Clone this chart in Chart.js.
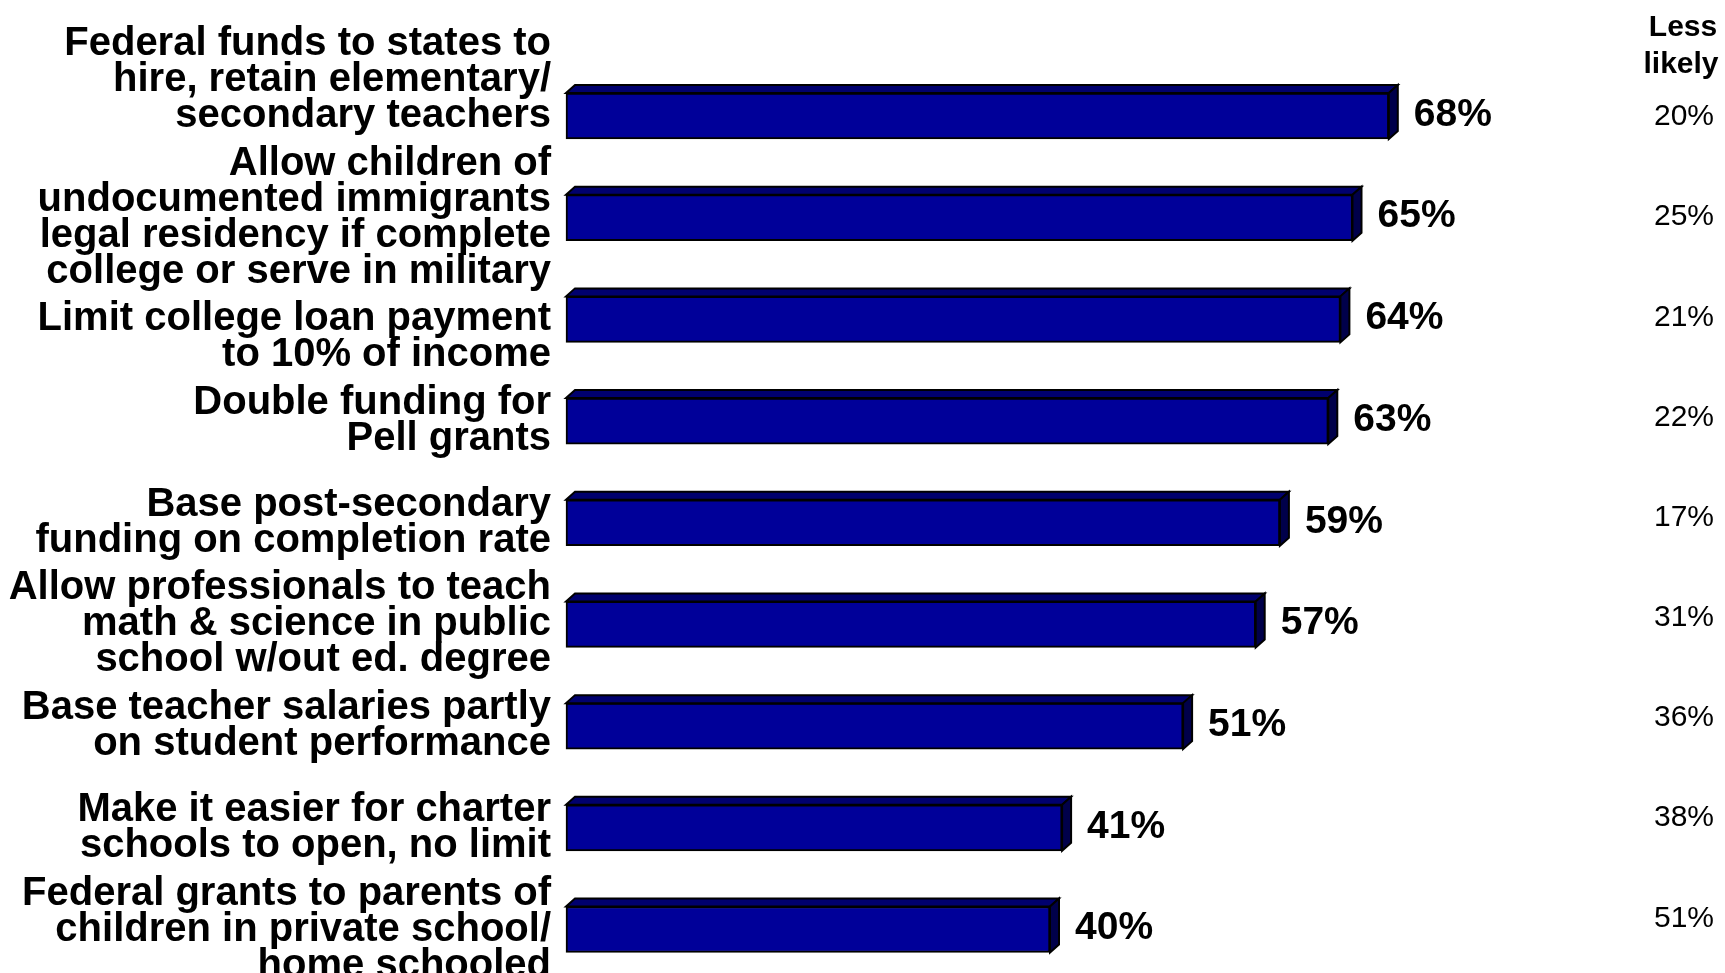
<!DOCTYPE html>
<html>
<head>
<meta charset="utf-8">
<script src="https://cdn.jsdelivr.net/npm/chart.js@4/dist/chart.umd.min.js"></script>
<style>
  html, body { margin: 0; padding: 0; background: #ffffff; }
  #wrap { width: 1725px; height: 973px; position: relative; }
</style>
</head>
<body>
<div id="wrap"><canvas id="chart" width="1725" height="973"></canvas></div>
<script>
// Proposals, each wrapped onto the lines shown on the axis
const categories = [
  ['Federal funds to states to', 'hire, retain elementary/', 'secondary teachers', '', ''],
  ['Allow children of', 'undocumented immigrants', 'legal residency if complete', 'college or serve in military'],
  ['', 'Limit college loan payment', 'to 10% of income'],
  ['Double funding for', 'Pell grants'],
  ['Base post-secondary', 'funding on completion rate'],
  ['Allow professionals to teach', 'math & science in public', 'school w/out ed. degree'],
  ['Base teacher salaries partly', 'on student performance'],
  ['Make it easier for charter', 'schools to open, no limit'],
  ['Federal grants to parents of', 'children in private school/', 'home schooled']
];
// Share more likely to support (bars)
const moreLikely = [68, 65, 64, 63, 59, 57, 51, 41, 40];
// Share less likely (right-hand column)
const lessLikely = [20, 25, 21, 22, 17, 31, 36, 38, 51];
const lessHeader = ['Less', 'likely'];

const FONT = "'Liberation Sans', Arial, Helvetica, sans-serif";
const DEPTH_X = 9, DEPTH_Y = 8;

// Extruded faces (top and right side) plus value labels for each bar
const bar3d = {
  id: 'bar3d',
  afterDatasetsDraw(chart) {
    const ctx = chart.ctx;
    const meta = chart.getDatasetMeta(0);
    ctx.save();
    ctx.lineWidth = 2;
    ctx.lineJoin = 'miter';
    ctx.strokeStyle = '#000000';
    meta.data.forEach((bar, i) => {
      const p = bar.getProps(['x', 'y', 'base', 'height'], true);
      const left = p.base, right = p.x;
      const top = p.y - p.height / 2, bottom = p.y + p.height / 2;
      // top face
      ctx.beginPath();
      ctx.moveTo(left, top);
      ctx.lineTo(left + DEPTH_X, top - DEPTH_Y);
      ctx.lineTo(right + DEPTH_X, top - DEPTH_Y);
      ctx.lineTo(right, top);
      ctx.closePath();
      ctx.fillStyle = '#00006e';
      ctx.fill();
      ctx.stroke();
      // side face
      ctx.beginPath();
      ctx.moveTo(right, top);
      ctx.lineTo(right + DEPTH_X, top - DEPTH_Y);
      ctx.lineTo(right + DEPTH_X, bottom - DEPTH_Y);
      ctx.lineTo(right, bottom);
      ctx.closePath();
      ctx.fillStyle = '#00004a';
      ctx.fill();
      ctx.stroke();
      // value label
      ctx.fillStyle = '#000000';
      ctx.font = 'bold 39px ' + FONT;
      ctx.textAlign = 'left';
      ctx.textBaseline = 'middle';
      ctx.fillText(moreLikely[i] + '%', right + 25, p.y - 1);
    });
    ctx.restore();
  }
};

// "Less likely" column on the right
const lessColumn = {
  id: 'lessColumn',
  afterDraw(chart) {
    const ctx = chart.ctx;
    const ys = chart.scales.y;
    const y0 = ys.getPixelForValue(0);
    const yN = ys.getPixelForValue(categories.length - 1);
    const step = (yN - y0) * 0.985 / (categories.length - 1);
    ctx.save();
    ctx.fillStyle = '#000000';
    ctx.textAlign = 'center';
    ctx.textBaseline = 'alphabetic';
    ctx.font = 'bold 30px ' + FONT;
    ctx.fillText(lessHeader[0], 1683, 36);
    ctx.fillText(lessHeader[1], 1681, 73);
    ctx.font = '30px ' + FONT;
    ctx.textBaseline = 'middle';
    lessLikely.forEach((v, i) => {
      ctx.fillText(v + '%', 1684, y0 + 1 + i * step);
    });
    ctx.restore();
  }
};

new Chart(document.getElementById('chart'), {
  type: 'bar',
  data: {
    labels: categories,
    datasets: [{
      data: moreLikely,
      backgroundColor: '#000099',
      borderColor: '#000000',
      borderWidth: 2,
      borderSkipped: false,
      barThickness: 46,
      clip: false
    }]
  },
  options: {
    responsive: false,
    animation: false,
    indexAxis: 'y',
    layout: { padding: { top: 116, bottom: 43.5, left: 0, right: 191 }, autoPadding: false },
    plugins: { legend: { display: false }, tooltip: { enabled: false } },
    scales: {
      x: { display: false, min: 0, max: 80 },
      y: {
        type: 'category',
        offset: false,
        grid: { display: false, drawTicks: false },
        border: { display: false },
        ticks: {
          autoSkip: false,
          color: '#000000',
          padding: 15,
          font: { family: FONT, size: 40, weight: 'bold', lineHeight: 0.9 }
        },
        afterFit(scale) {
          scale.width = 566;
          scale.paddingTop = 0;
          scale.paddingBottom = 0;
        }
      }
    }
  },
  plugins: [bar3d, lessColumn]
});
</script>
</body>
</html>
